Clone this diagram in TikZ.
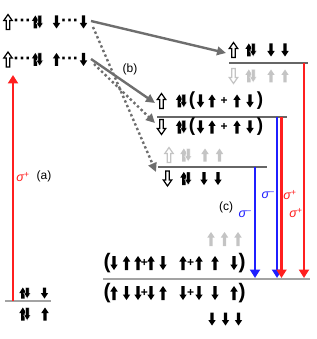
\documentclass[tikz,border=0pt]{standalone}
\usepackage{fontspec}
\setmainfont{Liberation Sans}
\usetikzlibrary{arrows.meta}
\definecolor{connc}{HTML}{6E6E6E}
\definecolor{lite}{HTML}{C4C4C4}
\definecolor{lvlc}{HTML}{666666}
\definecolor{lvlb}{HTML}{A3A3A3}
\definecolor{sred}{HTML}{FF1F1F}
\definecolor{sblue}{HTML}{1F1FFF}
% solid spin arrows: [colour]{x}{y}{half height}
\newcommand\sU[4][black]{\fill[#1,shift={(#2,#3)}] (0,-#4) -- (3.7,-#4+5.5) -- (1.65,-#4+5.5) -- (1.65,#4) -- (-1.65,#4) -- (-1.65,-#4+5.5) -- (-3.7,-#4+5.5) -- cycle;}
\newcommand\sD[4][black]{\fill[#1,shift={(#2,#3)}] (0,#4) -- (3.7,#4-5.5) -- (1.65,#4-5.5) -- (1.65,-#4) -- (-1.65,-#4) -- (-1.65,#4-5.5) -- (-3.7,#4-5.5) -- cycle;}
% paired spins
\newcommand\sP[4][black]{%
  \fill[#1,shift={(#2-2.2,#3)}] (0,-#4) -- (3.5,-#4+5.5) -- (1.8,-#4+5.5) -- (1.8,#4) -- (-1.8,#4) -- (-1.8,-#4+5.5) -- (-3.5,-#4+5.5) -- cycle;
  \filldraw[#1,draw=white,line width=0.4pt,shift={(#2+2.2,#3)}] (0,#4) -- (3.5,#4-5.5) -- (1.8,#4-5.5) -- (1.8,-#4) -- (-1.8,-#4) -- (-1.8,#4-5.5) -- (-3.5,#4-5.5) -- cycle;}
% hollow spins
\newcommand\hU[3][black]{\draw[#1,fill=white,line width=1.2pt,shift={(#2,#3)}] (0,-7.5) -- (4.2,-1.5) -- (1.8,-1.5) -- (1.8,7.5) -- (-1.8,7.5) -- (-1.8,-1.5) -- (-4.2,-1.5) -- cycle;}
\newcommand\hD[3][black]{\draw[#1,fill=white,line width=1.2pt,shift={(#2,#3)}] (0,7.5) -- (4.2,1.5) -- (1.8,1.5) -- (1.8,-7.5) -- (-1.8,-7.5) -- (-1.8,1.5) -- (-4.2,1.5) -- cycle;}
\begin{document}
\begin{tikzpicture}[x=1pt,y=-1pt,
  conn/.style={draw=connc,line width=2.4pt,-{Triangle[length=9pt,width=8.5pt]}},
  connd/.style={conn,dash pattern=on 2.4pt off 2.6pt},
  lvlline/.style={draw=lvlc,line width=1.1pt},
  lvlwide/.style={draw=lvlb,line width=1.8pt},
  sig/.style={line width=2.6pt,-{Triangle[length=8.5pt,width=10pt]}},
  lab/.style={font=\fontsize{12}{12}\selectfont,inner sep=0},
  sg/.style={font=\fontsize{12.5}{12.5}\selectfont\itshape,inner sep=0},
  parm/.style={font=\bfseries\fontsize{19}{19}\selectfont,inner sep=0},
  parb/.style={font=\bfseries\fontsize{21}{21}\selectfont,inner sep=0},
  pls/.style={font=\bfseries\fontsize{12}{12}\selectfont,inner sep=0},
  dts/.style={font=\bfseries\fontsize{18}{18}\selectfont,inner sep=0,anchor=base},
]
\useasboundingbox (0,0) rectangle (316,339);

% ---------- coordinates ----------
\coordinate (r1e) at (91,21);
\coordinate (r1d) at (93,27);
\coordinate (r2e) at (91,59);
\coordinate (r2d) at (94,64);
\coordinate (tgt1) at (226,53);
\coordinate (tgt2) at (155,103);
\coordinate (tgt3) at (155,123);
\coordinate (tgt4) at (156,172);
\coordinate (L1a) at (229,63);   \coordinate (L1b) at (308,63);
\coordinate (L2a) at (157,117);  \coordinate (L2b) at (287,117);
\coordinate (L3a) at (158,167);  \coordinate (L3b) at (267,167);
\coordinate (L4a) at (103,279);  \coordinate (L4b) at (310,279);
\coordinate (L5a) at (5,301);    \coordinate (L5b) at (51,301);
\coordinate (aS) at (13,301);    \coordinate (aE) at (13,75);
\coordinate (b1S) at (255,167);  \coordinate (b1E) at (255,278);
\coordinate (b2S) at (277,117);  \coordinate (b2E) at (277,278);
\coordinate (r3S) at (281.5,117);\coordinate (r3E) at (281.5,278);
\coordinate (r4S) at (304,63);   \coordinate (r4E) at (304,278);

% ---------- level lines ----------
\draw[lvlline] (L1a) -- (L1b);
\draw[lvlline] (L2a) -- (L2b);
\draw[lvlline] (L3a) -- (L3b);
\draw[lvlwide] (L4a) -- (L4b);
\draw[lvlb,line width=1.5pt] (L5a) -- (L5b);

% ---------- connectors ----------
\draw[connd] (r1d) -- (tgt4);
\draw[connd] (r2d) -- (tgt3);
\draw[conn] (r1e) -- (tgt1);
\draw[conn] (r2e) -- (tgt2);

% ---------- polarised transitions ----------
\draw[sig,sred] (aS) -- (aE);
\draw[sig,sblue] (b1S) -- (b1E);
\draw[sig,sblue] (b2S) -- (b2E);
\draw[sig,sred] (r3S) -- (r3E);
\draw[sig,sred] (r4S) -- (r4E);

% ---------- left top rows ----------
\hU{8}{22}
\node[dts] (dA) at (22.5,27) {···};
\sP{37.5}{22}{6.5}
\sD{56.5}{22}{6.5}
\node[dts] (dB) at (70,27) {···};
\sD{83.5}{22}{6.5}

\hU{8}{59.5}
\node[dts] (dC) at (22.5,64.5) {···};
\sP{37.5}{59.5}{6.5}
\sU{56.5}{59.5}{6.5}
\node[dts] (dD) at (70,64.5) {···};
\sD{83.5}{59.5}{6.5}

% ---------- left ground level ----------
\sP{25}{293}{5.5}
\sD{44.5}{293}{5.5}
\sP{25}{314}{6.5}
\sU{45}{314}{6.5}

% ---------- top right level ----------
\hU{233.5}{50}
\sP{251}{50}{6.5}
\sD{271}{50}{6.5}
\sD{285}{50}{6.5}
\hD[lite]{233.5}{76}
\sP[lite]{251}{76}{6.5}
\sU[lite]{271}{76}{6.5}
\sU[lite]{285}{76}{6.5}

% ---------- middle pair ----------
\hU{161.5}{101}
\sP{181.5}{101}{6.5}
\node[parm] (pm1) at (192,101) {(};
\sD{200.5}{101}{6.5}
\sU{212}{101}{6.5}
\node[pls] (pp1) at (224,101) {+};
\sU{237}{101}{6.5}
\sD{250}{101}{6.5}
\node[parm] (pm2) at (260,101) {)};

\hD{161.5}{127}
\sP{181.5}{127}{6.5}
\node[parm] (pm3) at (192,127) {(};
\sD{200.5}{127}{6.5}
\sU{212}{127}{6.5}
\node[pls] (pp2) at (224,127) {+};
\sU{237}{127}{6.5}
\sD{250}{127}{6.5}
\node[parm] (pm4) at (260,127) {)};

% ---------- third level ----------
\hU[lite]{169}{155}
\sP[lite]{186}{155}{6.5}
\sU[lite]{205}{155}{6.5}
\sU[lite]{219.5}{155}{6.5}
\hD{167.5}{178.5}
\sP{186}{178.5}{6.5}
\sD{204}{178.5}{6.5}
\sD{218}{178.5}{6.5}

% ---------- bottom level ----------
\sU[lite]{211}{239}{7}
\sU[lite]{224.5}{239}{7}
\sU[lite]{238}{239}{7}

\node[parb] (pb1) at (107,263) {(};
\sD{114}{263}{7}
\sU{126.5}{263}{7}
\sU{138}{263}{7}
\node[pls] (pb2) at (144.5,263) {+};
\sU{151}{263}{7}
\sD{163}{263}{7}
\sU{183}{263}{7}
\node[pls] (pb3) at (190.5,263) {+};
\sU{199}{263}{7}
\sU{215}{263}{7}
\sD{234}{263}{7}
\node[parb] (pb4) at (242,263) {)};

\node[parb] (pb5) at (107,293) {(};
\sU{114}{293}{7}
\sD{126.5}{293}{7}
\sD{138}{293}{7}
\node[pls] (pb6) at (144.5,293) {+};
\sD{151}{293}{7}
\sU{163}{293}{7}
\sD{183}{293}{7}
\node[pls] (pb7) at (190.5,293) {+};
\sD{199}{293}{7}
\sD{215}{293}{7}
\sU{234}{293}{7}
\node[parb] (pb8) at (242,293) {)};

\sD{212}{319}{6.5}
\sD{225.5}{319}{6.5}
\sD{238.5}{319}{6.5}

% ---------- labels ----------
\node[lab] (la) at (44,176) {(a)};
\node[lab] (lb) at (130,69) {(b)};
\node[lab] (lc) at (226,207) {(c)};
\node[sg,sred] (s1) at (23,177) {σ\textsuperscript{+}};
\node[sg,sblue] (s2) at (245,214) {σ\textsuperscript{–}};
\node[sg,sblue] (s3) at (268,195) {σ\textsuperscript{–}};
\node[sg,sred] (s4) at (290,195) {σ\textsuperscript{+}};
\node[sg,sred] (s5) at (296,213) {σ\textsuperscript{+}};
\end{tikzpicture}
\end{document}
